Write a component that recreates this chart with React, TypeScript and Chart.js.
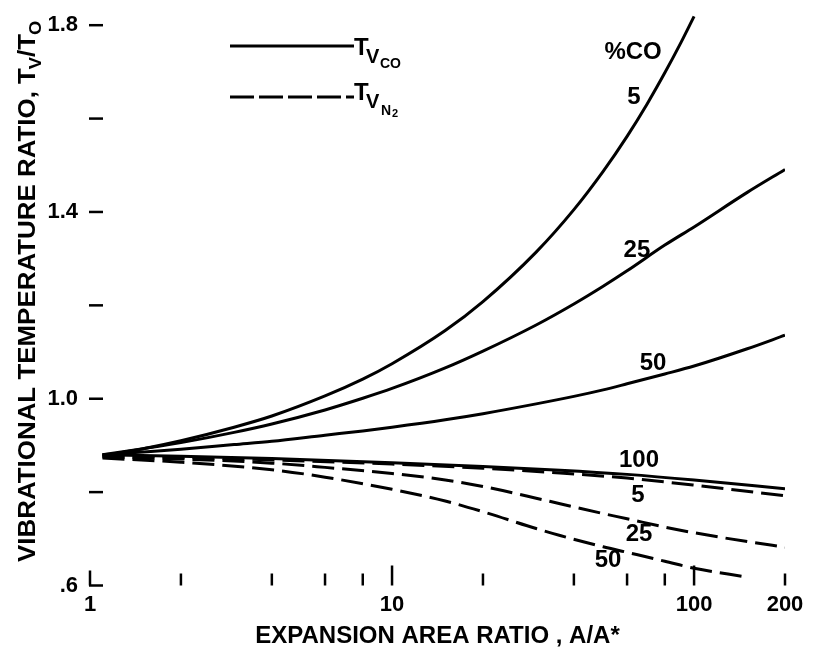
import React, { useEffect, useRef } from "react";
import { Chart, registerables } from "chart.js";

Chart.register(...registerables);

const FONT = '"Liberation Sans", Arial, sans-serif';

// Axis ticks
const xTicks = [1, 2, 4, 6, 8, 10, 20, 40, 60, 80, 100, 200];
const xLabelled = [1, 10, 100, 200];
const xMajor = [1, 10, 100];
const yTicks = [0.6, 0.8, 1.0, 1.2, 1.4, 1.6, 1.8];
const yLabelled = [0.6, 1.0, 1.4, 1.8];

// T_V,CO (solid) for %CO = 5, 25, 50, 100
const co5X = [1.1, 1.5, 2, 3, 4, 6, 8, 10, 15, 20, 30, 40, 50, 60, 70, 80, 90, 100];
const co5Y = [0.878, 0.893, 0.91, 0.939, 0.963, 1.006, 1.042, 1.075, 1.146, 1.208, 1.314, 1.405, 1.487, 1.562, 1.632, 1.698, 1.76, 1.819];

const co25X = [1.1, 1.5, 2, 3, 4, 6, 8, 10, 15, 20, 30, 40, 50, 60, 80, 100, 150, 200];
const co25Y = [0.88, 0.893, 0.906, 0.928, 0.946, 0.976, 1.001, 1.022, 1.066, 1.102, 1.158, 1.203, 1.241, 1.274, 1.329, 1.368, 1.442, 1.491];

const co50X = [1.1, 1.5, 2, 3, 4, 6, 8, 10, 15, 20, 30, 40, 50, 60, 80, 100, 150, 200];
const co50Y = [0.88, 0.886, 0.892, 0.902, 0.909, 0.922, 0.931, 0.939, 0.955, 0.968, 0.989, 1.005, 1.019, 1.032, 1.053, 1.07, 1.107, 1.136];

const co100X = [1.1, 2, 4, 10, 20, 36, 60, 100, 200];
const co100Y = [0.88, 0.877, 0.872, 0.863, 0.855, 0.847, 0.838, 0.826, 0.807];

// T_V,N2 (dashed) for %CO = 5, 25, 50
const n5X = [1.1, 2, 4, 10, 20, 36, 60, 100, 200];
const n5Y = [0.877, 0.874, 0.869, 0.86, 0.851, 0.841, 0.83, 0.815, 0.792];

const n25X = [1.1, 2, 4, 6, 10, 15, 20, 30, 36, 50, 60, 80, 100, 150, 200];
const n25Y = [0.875, 0.871, 0.862, 0.853, 0.84, 0.826, 0.812, 0.787, 0.775, 0.754, 0.743, 0.725, 0.713, 0.694, 0.682];

const n50X = [1.1, 2, 4, 6, 10, 15, 20, 30, 36, 50, 60, 80, 100, 150];
const n50Y = [0.873, 0.864, 0.848, 0.832, 0.806, 0.781, 0.758, 0.722, 0.707, 0.683, 0.671, 0.652, 0.637, 0.618];

// Curve annotations (data coordinates)
const noteText = ["%CO", "5", "25", "50", "100", "5", "25", "50"];
const noteX = [62.8, 63.2, 64.7, 73.1, 65.7, 65.2, 65.7, 51.9];
const noteY = [1.741, 1.645, 1.318, 1.075, 0.868, 0.794, 0.709, 0.654];

const pts = (xs: number[], ys: number[]) => xs.map((x, i) => ({ x, y: ys[i] }));

const near = (v: number, list: number[]) => list.some((l) => Math.abs(l - v) < 1e-6);

const decorPlugin = {
  id: "decor",
  afterDraw(chart: any) {
    const ctx = chart.ctx as CanvasRenderingContext2D;
    const xs = chart.scales.x;
    const ys = chart.scales.y;
    const area = chart.chartArea;
    ctx.save();
    ctx.strokeStyle = "#000";
    ctx.fillStyle = "#000";
    ctx.lineCap = "butt";

    // inner tick marks
    ctx.lineWidth = 2.5;
    xTicks.forEach((v) => {
      const px = xs.getPixelForValue(v);
      const len = v === 1 ? 15 : near(v, xMajor) ? 20 : 12;
      ctx.beginPath();
      ctx.moveTo(px, area.bottom);
      ctx.lineTo(px, area.bottom - len);
      ctx.stroke();
    });
    yTicks.forEach((v) => {
      const py = ys.getPixelForValue(v);
      ctx.beginPath();
      ctx.moveTo(area.left - 1, py);
      ctx.lineTo(area.left + 13, py);
      ctx.stroke();
    });

    // y axis title with subscripts, rotated
    ctx.save();
    ctx.translate(35, 562);
    ctx.rotate(-Math.PI / 2);
    ctx.scale(1.08, 1);
    ctx.textAlign = "left";
    ctx.textBaseline = "alphabetic";
    let cx = 0;
    const big = `bold 24px ${FONT}`;
    const sub = `bold 17px ${FONT}`;
    ctx.font = big;
    const main = "VIBRATIONAL TEMPERATURE RATIO, ";
    ctx.fillText(main, cx, 0);
    cx += ctx.measureText(main).width;
    ctx.fillText("T", cx, 0);
    cx += ctx.measureText("T").width - 1;
    ctx.font = sub;
    ctx.fillText("V", cx, 6);
    cx += ctx.measureText("V").width;
    ctx.font = big;
    ctx.fillText("/", cx, 0);
    cx += ctx.measureText("/").width;
    ctx.fillText("T", cx, 0);
    cx += ctx.measureText("T").width - 1;
    ctx.font = sub;
    ctx.fillText("O", cx, 6);
    ctx.restore();

    // legend
    ctx.lineWidth = 3;
    ctx.beginPath();
    ctx.moveTo(230, 46);
    ctx.lineTo(354, 46);
    ctx.stroke();
    ctx.setLineDash([24, 5]);
    ctx.beginPath();
    ctx.moveTo(230, 97);
    ctx.lineTo(354, 97);
    ctx.stroke();
    ctx.setLineDash([]);
    ctx.textAlign = "left";
    ctx.textBaseline = "alphabetic";
    ctx.font = `bold 24px ${FONT}`;
    ctx.fillText("T", 354, 55);
    ctx.font = `bold 20px ${FONT}`;
    ctx.fillText("V", 366, 63);
    ctx.font = `bold 14px ${FONT}`;
    ctx.fillText("CO", 380, 68);
    ctx.font = `bold 24px ${FONT}`;
    ctx.fillText("T", 354, 100);
    ctx.font = `bold 20px ${FONT}`;
    ctx.fillText("V", 366, 108);
    ctx.font = `bold 14px ${FONT}`;
    ctx.fillText("N", 381, 115);
    ctx.font = `bold 11px ${FONT}`;
    ctx.fillText("2", 392, 117);

    // curve annotations
    ctx.textAlign = "center";
    ctx.textBaseline = "middle";
    ctx.font = `bold 24px ${FONT}`;
    noteText.forEach((t, i) => {
      ctx.fillText(t, xs.getPixelForValue(noteX[i]), ys.getPixelForValue(noteY[i]));
    });
    ctx.restore();
  },
};

export default function App() {
  const ref = useRef<HTMLCanvasElement | null>(null);

  useEffect(() => {
    if (!ref.current) return;
    const solid = (xs: number[], ys: number[], clip: boolean = true) => ({
      data: pts(xs, ys),
      borderColor: "#000",
      borderWidth: 3,
      pointRadius: 0,
      fill: false,
      cubicInterpolationMode: "monotone" as const,
      clip: clip ? undefined : false,
    });
    const dashed = (xs: number[], ys: number[]) => ({
      ...solid(xs, ys),
      borderDash: [22, 8],
    });
    const tickFont = { family: FONT, size: 22, weight: "bold" as const };
    const chart = new Chart(ref.current, {
      type: "line",
      data: {
        datasets: [
          { label: "CO 5%", ...solid(co5X, co5Y, false) },
          { label: "CO 25%", ...solid(co25X, co25Y) },
          { label: "CO 50%", ...solid(co50X, co50Y) },
          { label: "CO 100%", ...solid(co100X, co100Y) },
          { label: "N2 5%", ...dashed(n5X, n5Y) },
          { label: "N2 25%", ...dashed(n25X, n25Y) },
          { label: "N2 50%", ...dashed(n50X, n50Y) },
        ] as any,
      },
      options: {
        responsive: false,
        animation: false,
        layout: { padding: { left: 48, right: 28, top: 20, bottom: 0 } },
        plugins: { legend: { display: false }, tooltip: { enabled: false } },
        scales: {
          x: {
            type: "logarithmic",
            min: 1,
            max: 200,
            afterBuildTicks: (s: any) => {
              s.ticks = xTicks.map((v) => ({ value: v }));
            },
            afterFit: (s: any) => {
              s.height = 65.5;
            },
            grid: { display: false, drawTicks: false },
            border: { display: false },
            ticks: {
              autoSkip: false,
              maxRotation: 0,
              padding: 6,
              color: "#000",
              font: tickFont,
              callback: (v: any) => (near(Number(v), xLabelled) ? String(Number(v)) : ""),
            },
            title: {
              display: true,
              text: "EXPANSION AREA RATIO , A/A*",
              color: "#000",
              font: { family: FONT, size: 24, weight: "bold" },
              padding: { top: 0, bottom: 0 },
            },
          },
          y: {
            type: "linear",
            min: 0.6,
            max: 1.8,
            afterBuildTicks: (s: any) => {
              s.ticks = yTicks.map((v) => ({ value: v }));
            },
            afterFit: (s: any) => {
              s.width = 42;
            },
            grid: { display: false, drawTicks: false },
            border: { display: false },
            ticks: {
              padding: 12,
              color: "#000",
              font: tickFont,
              callback: (v: any) => {
                const n = Number(v);
                if (!near(n, yLabelled)) return "";
                return n < 1 ? "." + Math.round(n * 10) : n.toFixed(1);
              },
            },
          },
        },
      } as any,
      plugins: [decorPlugin],
    });
    return () => chart.destroy();
  }, []);

  return (
    <div style={{ position: "fixed", left: 0, top: 0, width: 813, height: 651, background: "#fff" }}>
      <canvas ref={ref} width={813} height={651} style={{ display: "block" }} />
    </div>
  );
}
